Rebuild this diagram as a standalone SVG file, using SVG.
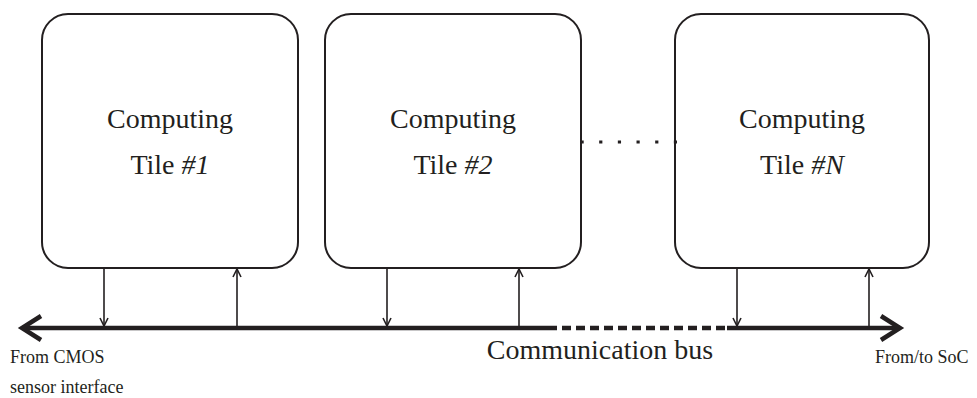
<svg xmlns="http://www.w3.org/2000/svg" width="977" height="398" viewBox="0 0 977 398">
<style>
.box{fill:#fff;stroke:#231f20;stroke-width:2}
.lbl{font-family:"Liberation Serif","Times New Roman",serif;fill:#231f20;text-anchor:middle;font-size:28px}
.sm{font-family:"Liberation Serif","Times New Roman",serif;fill:#231f20;font-size:18px}
.link{stroke:#231f20;stroke-width:1.6;fill:none}
.bus{stroke:#231f20;stroke-width:4.5;fill:none}
</style>
<defs>
<marker id="ah" viewBox="0 0 10 10" refX="9" refY="5" markerWidth="10" markerHeight="10" markerUnits="userSpaceOnUse" orient="auto">
<path d="M1,1 L9,5 L1,9" fill="none" stroke="#231f20" stroke-width="1.6"/>
</marker>
</defs>
<rect width="977" height="398" fill="#fff"/>
<g id="tile1">
<rect class="box" x="42" y="14" width="256" height="254" rx="26"/>
<text class="lbl" x="170" y="128">Computing</text>
<text class="lbl" x="170" y="174">Tile <tspan font-style="italic">#1</tspan></text>
</g>
<g id="tile2">
<rect class="box" x="325" y="14" width="256" height="254" rx="26"/>
<text class="lbl" x="453" y="128">Computing</text>
<text class="lbl" x="453" y="174">Tile <tspan font-style="italic">#2</tspan></text>
</g>
<g id="tileN">
<rect class="box" x="675" y="14" width="254" height="254" rx="26"/>
<text class="lbl" x="802" y="128">Computing</text>
<text class="lbl" x="802" y="174">Tile <tspan font-style="italic">#N</tspan></text>
</g>
<g id="connectors">
<line x1="580.5" y1="142" x2="677" y2="142" stroke="#231f20" stroke-width="3.2" stroke-dasharray="3.2 15.47"/>
<line class="bus" x1="22" y1="328" x2="548" y2="328"/>
<line class="bus" x1="548" y1="328" x2="727" y2="328" stroke-dasharray="9 5"/>
<line class="bus" x1="727" y1="328" x2="900" y2="328"/>
<path class="bus" d="M41,316 L22,328 L41,340"/>
<path class="bus" d="M881,316 L900,328 L881,340"/>
<line class="link" x1="104" y1="268" x2="104" y2="326" marker-end="url(#ah)"/>
<line class="link" x1="237" y1="326" x2="237" y2="269" marker-end="url(#ah)"/>
<line class="link" x1="387" y1="268" x2="387" y2="326" marker-end="url(#ah)"/>
<line class="link" x1="519" y1="326" x2="519" y2="269" marker-end="url(#ah)"/>
<line class="link" x1="737" y1="268" x2="737" y2="326" marker-end="url(#ah)"/>
<line class="link" x1="869" y1="326" x2="869" y2="269" marker-end="url(#ah)"/>
</g>
<text class="lbl" x="600" y="359" font-size="27px">Communication bus</text>
<text class="sm" x="10" y="363">From CMOS</text>
<text class="sm" x="10" y="393">sensor interface</text>
<text class="sm" x="875" y="363">From/to SoC</text>
</svg>
